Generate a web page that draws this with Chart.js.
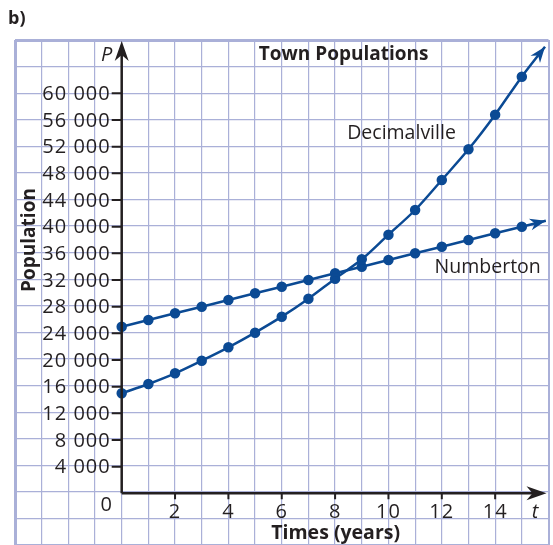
<!DOCTYPE html>
<html>
<head>
<meta charset="utf-8">
<script src="https://cdn.jsdelivr.net/npm/chart.js@4"></script>
<style>
  html, body { margin: 0; padding: 0; background: #fff; }
  #wrap { width: 553px; height: 545px; position: relative; }
</style>
</head>
<body>
<div id="wrap"><canvas id="popChart"></canvas></div>
<script>
// years since start
const years = [0, 1, 2, 3, 4, 5, 6, 7, 8, 9, 10, 11, 12, 13, 14, 15];
// Decimalville grows by a percentage each year
const decimalville = [15000, 16400, 18000, 19900, 21900, 24100, 26500, 29200,
  32200, 35100, 38800, 42500, 47000, 51600, 56800, 62500];
// Numberton grows by a fixed amount each year
const numberton = [25000, 26000, 27000, 28000, 29000, 30000, 31000, 32000,
  33000, 34000, 35000, 36000, 37000, 38000, 39000, 40000];
// where each curve's arrow ends
const decimalvilleTip = { x: 15.87, y: 67000 };
const numbertonTip = { x: 15.9, y: 40900 };

const yTicks = [4000, 8000, 12000, 16000, 20000, 24000, 28000, 32000, 36000,
  40000, 44000, 48000, 52000, 56000, 60000];
const yTickLabels = ["4 000", "8 000", "12 000", "16 000", "20 000", "24 000",
  "28 000", "32 000", "36 000", "40 000", "44 000", "48 000", "52 000",
  "56 000", "60 000"];
const xTicks = [2, 4, 6, 8, 10, 12, 14];
const xTickLabels = ["2", "4", "6", "8", "10", "12", "14"];

const INK = "#231f20";
const LINE = "#0b4a94";
const GRID = "#aab0d8";
const FONT = "'Open Sans', sans-serif";

function toPoints(xs, ys, tip) {
  const pts = xs.map((x, i) => ({ x: x, y: ys[i] }));
  pts.push(tip);
  return pts;
}

function radii(n) {
  const r = Array(n).fill(4);
  r.push(0);
  return r;
}

function arrowHead(ctx, x1, y1, x2, y2, len, half) {
  const a = Math.atan2(y2 - y1, x2 - x1);
  ctx.save();
  ctx.translate(x2, y2);
  ctx.rotate(a);
  ctx.beginPath();
  ctx.moveTo(0, 0);
  ctx.lineTo(-len, -half);
  ctx.lineTo(-len * 0.7, 0);
  ctx.lineTo(-len, half);
  ctx.closePath();
  ctx.fill();
  ctx.restore();
}

// axes through the origin, arrows, labels and titles
const overlay = {
  id: "overlay",
  afterDatasetsDraw(chart) {
    const ctx = chart.ctx;
    const xs = chart.scales.x;
    const ys = chart.scales.y;
    const ox = xs.getPixelForValue(0);
    const oy = ys.getPixelForValue(0);
    const area = chart.chartArea;

    // arrowheads at the end of each curve
    ctx.fillStyle = LINE;
    chart.data.datasets.forEach((ds, i) => {
      const pts = chart.getDatasetMeta(i).data;
      const a = pts[pts.length - 2];
      const b = pts[pts.length - 1];
      arrowHead(ctx, a.x, a.y, b.x, b.y, 16, 6);
    });

    // axes
    ctx.strokeStyle = INK;
    ctx.fillStyle = INK;
    ctx.lineWidth = 2.5;
    ctx.beginPath();
    ctx.moveTo(ox, oy);
    ctx.lineTo(ox, area.top + 8);
    ctx.moveTo(ox, oy);
    ctx.lineTo(area.right - 8, oy);
    ctx.stroke();
    arrowHead(ctx, ox, oy, ox, area.top + 1, 20, 7);
    arrowHead(ctx, ox, oy, area.right - 2, oy, 20, 7);

    // tick marks
    ctx.lineWidth = 2;
    ctx.beginPath();
    yTicks.forEach(v => {
      const y = ys.getPixelForValue(v);
      ctx.moveTo(ox - 10, y);
      ctx.lineTo(ox, y);
    });
    xTicks.forEach(v => {
      const x = xs.getPixelForValue(v);
      ctx.moveTo(x, oy);
      ctx.lineTo(x, oy + 6);
    });
    ctx.stroke();

    // tick labels
    ctx.font = "20px " + FONT;
    ctx.letterSpacing = "1px";
    ctx.textAlign = "right";
    ctx.textBaseline = "middle";
    yTicks.forEach((v, i) => {
      ctx.fillText(yTickLabels[i], ox - 11, ys.getPixelForValue(v) + 1);
    });
    ctx.textAlign = "center";
    xTicks.forEach((v, i) => {
      ctx.fillText(xTickLabels[i], xs.getPixelForValue(v), oy + 19);
    });
    ctx.fillText("0", ox - 15, oy + 12);
    ctx.letterSpacing = "0px";

    // axis letters
    ctx.font = "italic 20px " + FONT;
    ctx.fillText("P", ox - 15, area.top + 15);
    ctx.fillText("t", xs.getPixelForValue(15.5), oy + 19);

    // series names
    ctx.font = "19.5px " + FONT;
    ctx.fillText("Decimalville", xs.getPixelForValue(10.49), ys.getPixelForValue(54000));
    ctx.fillText("Numberton", xs.getPixelForValue(13.72), ys.getPixelForValue(33900));

    // titles
    ctx.font = "bold 19px " + FONT;
    ctx.fillText("Town Populations", xs.getPixelForValue(8.32), area.top + 15);
    ctx.font = "bold 19.5px " + FONT;
    ctx.fillText("Times (years)", xs.getPixelForValue(8.02), oy + 40);
    ctx.font = "bold 18px " + FONT;
    ctx.textAlign = "left";
    ctx.fillText("b)", 8, 19);
    ctx.save();
    ctx.font = "bold 19px " + FONT;
    ctx.translate(30, ys.getPixelForValue(38000));
    ctx.rotate(-Math.PI / 2);
    ctx.textAlign = "center";
    ctx.fillText("Population", 0, 0);
    ctx.restore();
  }
};

const config = {
  type: "scatter",
  data: {
    datasets: [
      {
        label: "Decimalville",
        data: toPoints(years, decimalville, decimalvilleTip),
        borderColor: LINE,
        backgroundColor: LINE,
        borderWidth: 2.5,
        showLine: true,
        cubicInterpolationMode: "monotone",
        pointRadius: radii(years.length),
        pointHoverRadius: 4,
      },
      {
        label: "Numberton",
        data: toPoints(years, numberton, numbertonTip),
        borderColor: LINE,
        backgroundColor: LINE,
        borderWidth: 2.5,
        showLine: true,
        pointRadius: radii(years.length),
        pointHoverRadius: 4,
      },
    ],
  },
  options: {
    responsive: true,
    maintainAspectRatio: false,
    animation: false,
    layout: {
      autoPadding: false,
      padding: { left: 15, top: 40, right: 4.5, bottom: 0 },
    },
    scales: {
      x: {
        type: "linear",
        min: -4,
        max: 16,
        afterFit: (scale) => { scale.height = 0; },
        ticks: { display: false, stepSize: 1 },
        border: { display: false },
        grid: {
          drawTicks: false,
          color: GRID,
          lineWidth: (c) => (c.tick && c.tick.value === -4 ? 3 : c.tick && c.tick.value === 16 ? 2 : 1.2),
        },
      },
      y: {
        min: -7750,
        max: 68000,
        afterFit: (scale) => { scale.width = 0; },
        ticks: { display: false, stepSize: 4000, includeBounds: false },
        border: { display: false },
        grid: {
          drawTicks: false,
          color: GRID,
          lineWidth: (c) => (c.tick && c.tick.value === 68000 ? 3 : 1.2),
        },
      },
    },
    plugins: {
      legend: { display: false },
      tooltip: { enabled: false },
    },
  },
  plugins: [overlay],
};

new Chart(document.getElementById("popChart").getContext("2d"), config);
</script>
</body>
</html>
